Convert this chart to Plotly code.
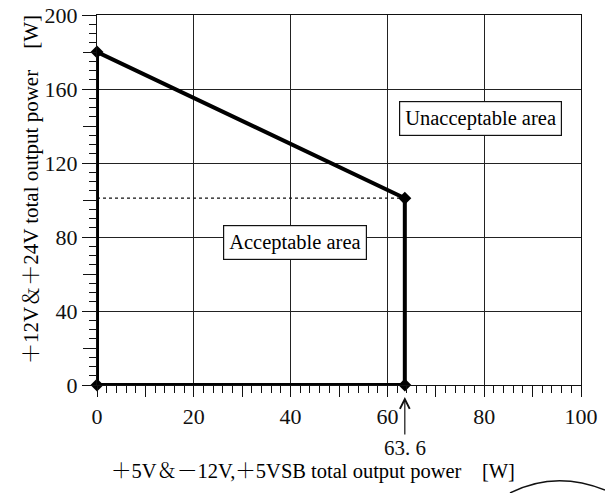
import plotly.graph_objects as go

# Data: boundary of the acceptable area
boundary_x = [0, 0, 63.6, 63.6, 0]
boundary_y = [0, 180, 101, 0, 0]
corner_x = [0, 0, 63.6, 63.6]
corner_y = [0, 180, 101, 0]
limit_x = 63.6
knee_y = 101

x_major = [0, 20, 40, 60, 80, 100]
x_medium = [10, 30, 50, 70, 90]
y_major = [0, 40, 80, 120, 160, 200]
y_medium = [20, 60, 100, 140, 180]

FONT = "Liberation Serif, Noto Serif CJK JP, Noto Sans CJK JP, serif"
INK = "#111111"

# plot-area geometry in window pixels (page body margin removed below)
PL, PR, PT, PB = 97, 581, 15, 385
PW, PH = PR - PL, PB - PT


def px(xw):
    return (xw - PL) / PW


def py(yw):
    return (PB - yw) / PH


fig = go.Figure()

# dotted reference line at knee level
fig.add_trace(go.Scatter(x=[0, limit_x], y=[knee_y, knee_y], mode="lines",
                         line=dict(color=INK, width=1.2, dash="dot"),
                         hoverinfo="skip", showlegend=False))
# boundary
fig.add_trace(go.Scatter(x=boundary_x, y=boundary_y, mode="lines",
                         line=dict(color="black", width=4),
                         showlegend=False, cliponaxis=False))
fig.add_trace(go.Scatter(x=corner_x, y=corner_y, mode="markers",
                         marker=dict(symbol="diamond", size=10, color="black"),
                         showlegend=False, cliponaxis=False))
# invisible trace to activate secondary (medium tick) axes
fig.add_trace(go.Scatter(x=[0], y=[0], xaxis="x2", yaxis="y2", mode="markers",
                         marker=dict(opacity=0), hoverinfo="skip", showlegend=False))

W, H = 605, 493
fig.update_layout(
    width=W, height=H,
    margin=dict(l=PL, r=W - PR, t=PT, b=H - PB, autoexpand=False),
    paper_bgcolor="white", plot_bgcolor="white",
    font=dict(family=FONT, color=INK, size=22),
    xaxis=dict(range=[0, 100], tickvals=x_major, ticks="outside", ticklen=11,
               tickwidth=1.3, tickcolor=INK, showgrid=True, gridcolor="#222222",
               gridwidth=1, zeroline=False, showline=True, linecolor=INK,
               linewidth=1.3, mirror=True, automargin=False,
               ticklabeloverflow="allow",
               minor=dict(dtick=2, ticks="outside", ticklen=7, tickwidth=1.2,
                          tickcolor=INK, showgrid=False),
               tickfont=dict(size=22, family=FONT)),
    yaxis=dict(range=[0, 200], tickvals=y_major, ticks="outside", ticklen=14,
               tickwidth=1.3, tickcolor=INK, showgrid=True, gridcolor="#222222",
               gridwidth=1, zeroline=False, showline=True, linecolor=INK,
               linewidth=1.3, mirror=True, automargin=False,
               ticklabeloverflow="allow",
               minor=dict(dtick=5, ticks="outside", ticklen=7, tickwidth=1.2,
                          tickcolor=INK, showgrid=False),
               tickfont=dict(size=22, family=FONT)),
    xaxis2=dict(range=[0, 100], overlaying="x", side="bottom", tickvals=x_medium,
                ticks="outside", ticklen=11, tickwidth=1.2, tickcolor=INK,
                showticklabels=False, showgrid=False, zeroline=False, showline=False,
                automargin=False),
    yaxis2=dict(range=[0, 200], overlaying="y", side="left", tickvals=y_medium,
                ticks="outside", ticklen=13, tickwidth=1.2, tickcolor=INK,
                showticklabels=False, showgrid=False, zeroline=False, showline=False,
                automargin=False),
    showlegend=False,
)

# area labels
fig.add_annotation(x=79.3, y=144, xref="x", yref="y", text="Unacceptable area",
                   showarrow=False, bgcolor="white", bordercolor=INK, borderwidth=1.2,
                   borderpad=5, xanchor="center", yanchor="middle",
                   font=dict(size=20.5, family=FONT, color="black"))
fig.add_annotation(x=41, y=77, xref="x", yref="y", text="Acceptable area",
                   showarrow=False, bgcolor="white", bordercolor=INK, borderwidth=1.2,
                   borderpad=5, xanchor="center", yanchor="middle",
                   font=dict(size=20.5, family=FONT, color="black"))

# 63.6 marker arrow
fig.add_annotation(x=limit_x, y=py(397), xref="x", yref="paper", text="63. 6",
                   showarrow=True, ax=0, ay=51, arrowhead=5, arrowsize=1.6,
                   arrowwidth=1.2, arrowcolor=INK, standoff=0, startstandoff=0,
                   xanchor="center", yanchor="middle",
                   font=dict(size=21, family=FONT, color=INK))

# axis titles
fig.add_annotation(x=px(313), y=py(471), xref="paper", yref="paper",
                   text="＋5V＆－12V,＋5VSB total output power　[W]",
                   xanchor="center", yanchor="middle",
                   showarrow=False, font=dict(size=20.5, family=FONT, color="black"))
fig.add_annotation(x=px(31), y=py(190), xref="paper", yref="paper",
                   text="＋12V＆＋24V total output power　[W]", textangle=-90,
                   xanchor="center", yanchor="middle",
                   showarrow=False, font=dict(size=21, family=FONT, color="black"))

# scan artifact curve under [W]
fig.add_shape(type="path", xref="paper", yref="paper",
              path="M %f %f Q %f %f %f %f" % (px(510), py(493), px(555), py(470),
                                              px(605), py(490)),
              line=dict(color=INK, width=1.5))

fig.write_html("out.html", config={"displayModeBar": False},
               post_script="document.body.style.margin='0';")
